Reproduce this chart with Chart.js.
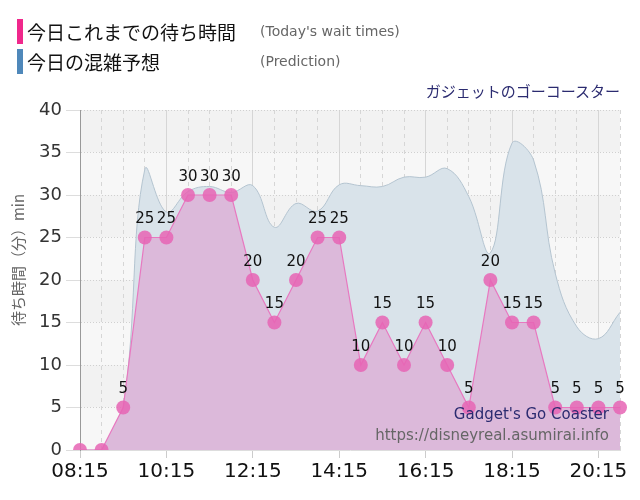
<!DOCTYPE html>
<html>
<head>
<meta charset="utf-8">
<script src="https://cdn.jsdelivr.net/npm/chart.js@4/dist/chart.umd.min.js"></script>
<style>
	body { margin: 0; background: #fff; font-family: 'DejaVu Sans', sans-serif; }
	.wrap { position: relative; width: 640px; height: 500px; }
	.wrap canvas { position: absolute; left: 0; top: 0; }
	.legend-row { position: absolute; left: 17px; height: 25px; }
	.legend-bar { position: absolute; left: 0; top: 0; width: 6px; height: 25px; }
	.legend-jp { position: absolute; left: 10px; top: 0; font: 19px 'Noto Sans CJK JP', sans-serif; line-height: 25px; color: #111; white-space: nowrap; }
	.legend-en { position: absolute; left: 243px; top: 0; font: 14px 'DejaVu Sans', sans-serif; line-height: 25px; color: #666; white-space: nowrap; }
	.ride { position: absolute; right: 20px; top: 80px; font: 15px 'Noto Sans CJK JP', sans-serif; line-height: 22px; color: #2b2b70; }
</style>
</head>
<body>
<div class="wrap">
	<canvas class="wait-chart" width="640" height="500"></canvas>
	<div class="legend-row" style="top: 19px">
		<div class="legend-bar" style="background: #f0288c"></div>
		<div class="legend-jp">今日これまでの待ち時間</div>
		<div class="legend-en">(Today's wait times)</div>
	</div>
	<div class="legend-row" style="top: 49px">
		<div class="legend-bar" style="background: #4f88ba"></div>
		<div class="legend-jp">今日の混雑予想</div>
		<div class="legend-en">(Prediction)</div>
	</div>
	<div class="ride">ガジェットのゴーコースター</div>
</div>
<script>
let times = ['08:15', '08:45', '09:15', '09:45', '10:15', '10:45', '11:15', '11:45', '12:15', '12:45', '13:15', '13:45', '14:15',
	'14:45', '15:15', '15:45', '16:15', '16:45', '17:15', '17:45', '18:15', '18:45', '19:15', '19:45', '20:15', '20:45']
let waitTimes = [0, 0, 5, 25, 25, 30, 30, 30, 20, 15, 20, 25, 25, 10, 15, 10, 15, 10, 5, 20, 15, 15, 5, 5, 5, 5]
let prediction = [0, 0, 5, 33, 28, 30.4, 31, 30.3, 31.1, 26.2, 29, 28.1, 31.2, 31.1, 31, 32.1, 32.1, 33.1, 29.8, 23.2, 36.1, 34.1, 20.8, 14.5, 13.1, 16.2]
let yTitle = '待ち時間（分）min'
let siteName = "Gadget's Go Coaster"
let siteUrl = 'https://disneyreal.asumirai.info'

let canvas = document.querySelector('.wait-chart')

// alternating grey bands behind the plot
let bandPlugin = {
	id: 'bands',
	beforeDraw(chart) {
		let ctx = chart.ctx
		let area = chart.chartArea
		let y = chart.scales.y
		ctx.save()
		for (let v = 0; v < 40; v += 5) {
			let top = y.getPixelForValue(v + 5)
			let bottom = y.getPixelForValue(v)
			ctx.fillStyle = (v / 5) % 2 === 0 ? '#f7f7f7' : '#f2f2f2'
			ctx.fillRect(area.left, top, area.right - area.left, bottom - top)
		}
		ctx.restore()
	},
}

let labelPlugin = {
	id: 'valueLabels',
	afterDatasetsDraw(chart) {
		let ctx = chart.ctx
		let meta = chart.getDatasetMeta(0)
		ctx.save()
		ctx.font = '15px "DejaVu Sans"'
		ctx.fillStyle = '#111'
		ctx.textAlign = 'center'
		ctx.textBaseline = 'middle'
		for (let i = 0; i < meta.data.length; i++) {
			if (i < 2) continue
			let p = meta.data[i]
			ctx.fillText(String(waitTimes[i]), p.x, p.y - 18)
		}
		ctx.restore()
	},
	afterDraw(chart) {
		let ctx = chart.ctx
		let area = chart.chartArea
		ctx.save()
		ctx.textAlign = 'right'
		ctx.textBaseline = 'middle'
		ctx.font = '15px "DejaVu Sans"'
		ctx.fillStyle = '#2b2b70'
		ctx.fillText(siteName, area.right - 11, 415)
		ctx.fillStyle = '#666'
		ctx.fillText(siteUrl, area.right - 11, 436)
		// y axis title
		ctx.translate(18, 260)
		ctx.rotate(-Math.PI / 2)
		ctx.textAlign = 'center'
		ctx.font = '15px "Noto Sans CJK JP"'
		ctx.fillStyle = '#666'
		ctx.fillText(yTitle, 0, 0)
		ctx.restore()
	},
}

let chart = new Chart(canvas, {
	type: 'line',
	data: {
		labels: times,
		datasets: [
			{
				data: waitTimes,
				order: 0,
				borderColor: '#e878c0',
				borderWidth: 1.2,
				backgroundColor: '#dcb9da',
				fill: 'origin',
				tension: 0,
				pointRadius: 7,
				pointHoverRadius: 7,
				pointBackgroundColor: 'rgba(230, 100, 180, 0.85)',
				pointBorderWidth: 0,
			},
			{
				data: prediction,
				order: 1,
				borderColor: '#b4c4d0',
				borderWidth: 1,
				backgroundColor: '#d9e3ea',
				fill: 'origin',
				tension: 0.4,
				pointRadius: 0,
			},
		],
	},
	options: {
		responsive: false,
		animation: false,
		layout: {
			padding: { top: 110, right: 20, left: 0, bottom: 0 },
		},
		plugins: {
			legend: { display: false },
			tooltip: { enabled: false },
		},
		scales: {
			x: {
				afterFit(scale) {
					scale.height = 50
				},
				grid: {
					color: '#d6d6d6',
					tickLength: 8,
					tickColor: function (c) {
						return c.index % 4 === 0 ? '#ccc' : 'rgba(0,0,0,0)'
					},
				},
				border: {
					color: '#ddd',
					dash: function (c) {
						return c.index % 4 === 0 ? [] : [4, 4]
					},
				},
				ticks: {
					autoSkip: false,
					maxRotation: 0,
					color: '#111',
					font: { size: 20, family: 'DejaVu Sans' },
					padding: 2,
					callback: function (value, index) {
						return index % 4 === 0 ? times[index] : ''
					},
				},
			},
			y: {
				min: 0,
				max: 40,
				afterFit(scale) {
					scale.width = 80
				},
				grid: {
					color: '#d0d0d0',
					tickLength: 14,
					tickColor: '#ddd',
				},
				border: {
					color: '#999',
					dash: [1, 2],
				},
				ticks: {
					stepSize: 5,
					color: '#333',
					font: { size: 18, family: 'DejaVu Sans' },
					padding: 4,
				},
			},
		},
	},
	plugins: [bandPlugin, labelPlugin],
})
</script>
</body>
</html>
